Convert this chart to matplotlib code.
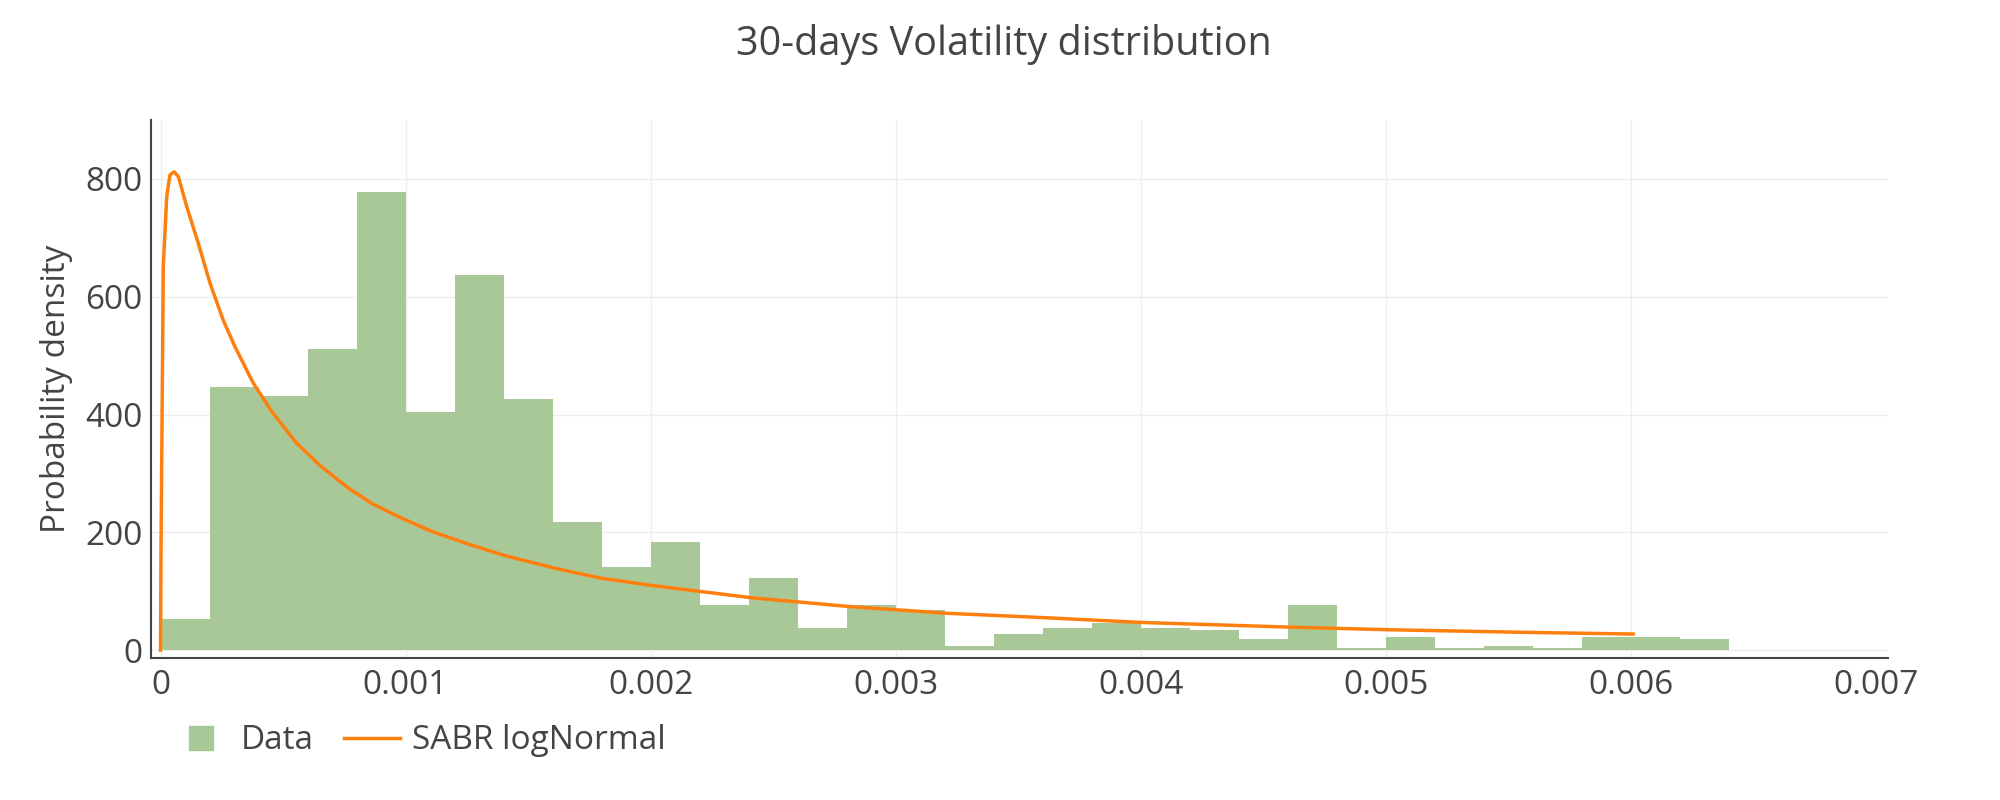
import matplotlib.pyplot as plt
from matplotlib.lines import Line2D

# font
plt.rcParams['font.family'] = ['Open Sans', 'DejaVu Sans']

# histogram (density), bins of width 0.0002 from 0 to 0.0064
bin_edges = [0.0, 0.0002, 0.0004, 0.0006, 0.0008, 0.0010, 0.0012, 0.0014,
             0.0016, 0.0018, 0.0020, 0.0022, 0.0024, 0.0026, 0.0028, 0.0030,
             0.0032, 0.0034, 0.0036, 0.0038, 0.0040, 0.0042, 0.0044, 0.0046,
             0.0048, 0.0050, 0.0052, 0.0054, 0.0056, 0.0058, 0.0060, 0.0062,
             0.0064]
density = [53, 447, 432, 511, 778, 404, 637, 426,
           218, 141, 183, 77, 122, 37, 77, 68,
           7, 27, 37, 46, 37, 34, 19, 77,
           3, 22, 3, 7, 3, 22, 22, 19]

# SABR logNormal curve
sabr_x = [0.0, 0.000002, 0.0000114, 0.0000253, 0.0000388, 0.000055,
          0.0000727, 0.000107, 0.000154, 0.000202, 0.000256, 0.000304,
          0.000379, 0.000454, 0.000556, 0.000658, 0.000767, 0.000862,
          0.000984, 0.00111, 0.00125, 0.0014, 0.00163, 0.0018, 0.0020,
          0.00241, 0.00281, 0.00321, 0.00361, 0.0040, 0.00461, 0.00501,
          0.00559, 0.00601]
sabr_y = [0, 170, 651, 770, 807, 812,
          804, 753, 691, 623, 560, 515,
          453, 405, 351, 311, 275, 249,
          224, 201, 181, 161, 137, 122, 110,
          89, 74, 62.5, 55, 47, 39, 34.6,
          30, 27.3]

xticks = [0, 0.001, 0.002, 0.003, 0.004, 0.005, 0.006, 0.007]
xtick_labels = ["0", "0.001", "0.002", "0.003", "0.004", "0.005", "0.006", "0.007"]
yticks = [0, 200, 400, 600, 800]

txt = "#444444"
green = "#a8c997"
orange = "#ff7f0e"

fig = plt.figure(figsize=(20, 8), dpi=100)
ax = fig.add_axes([0.0755, 0.1775, 0.8685, 0.6725])

widths = [bin_edges[i + 1] - bin_edges[i] for i in range(len(density))]
ax.bar(bin_edges[:-1], density, width=widths, align="edge",
       color=green, linewidth=0, zorder=2)
ax.plot(sabr_x, sabr_y, color=orange, lw=2.5, zorder=3)

ax.set_xlim(-0.0000388, 0.00705)
ax.set_ylim(-13.4, 900)
ax.set_xticks(xticks)
ax.set_xticklabels(xtick_labels)
ax.set_yticks(yticks)
ax.tick_params(length=0, labelsize=24, colors=txt)
ax.tick_params(axis="x", pad=8)
ax.tick_params(axis="y", pad=6)
ax.grid(True, color="#eeeeee", lw=1, zorder=0)
ax.set_axisbelow(True)
# no grid line shows at the right edge in the original
ax.get_xgridlines()[-1].set_visible(False)

for s in ["top", "right"]:
    ax.spines[s].set_visible(False)
for s in ["left", "bottom"]:
    ax.spines[s].set_color(txt)
    ax.spines[s].set_linewidth(1.5)

ax.set_ylabel("Probability density", fontsize=24, color=txt)
ax.yaxis.set_label_coords(-0.045, 0.5)
fig.text(0.502, 0.944, "30-days Volatility distribution", fontsize=28.5,
         color=txt, ha="center", va="center")

handles = [Line2D([], [], marker="s", ls="none", color=green, markersize=17),
           Line2D([], [], color=orange, lw=2.5)]
fig.legend(handles, ["Data", "SABR logNormal"], loc="center left",
           bbox_to_anchor=(0.0712, 0.074), ncol=2, frameon=False, fontsize=24,
           labelcolor=txt, handlelength=1.7, columnspacing=0.9,
           handletextpad=0.35)

plt.savefig("out.png")
